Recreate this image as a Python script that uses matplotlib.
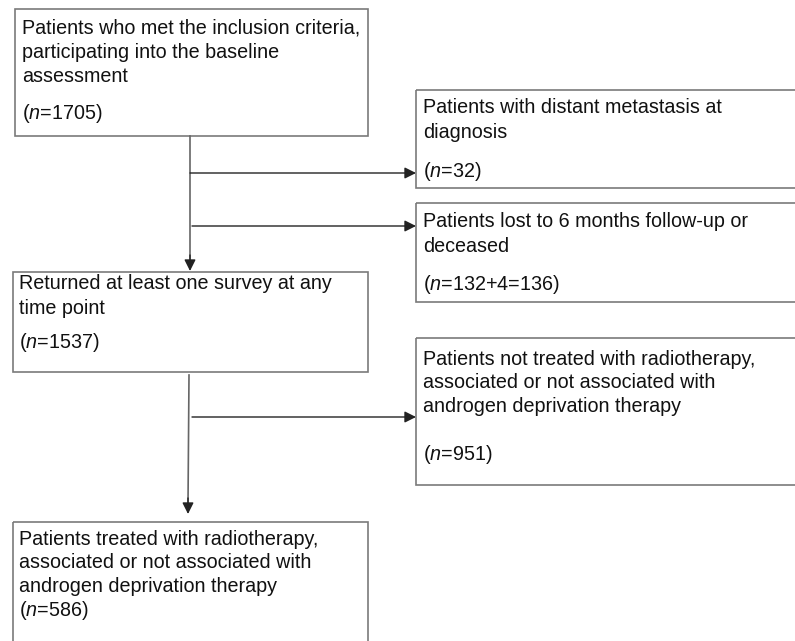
"""Flow chart of patient selection."""
import matplotlib.pyplot as plt
from matplotlib.patches import Rectangle

plt.rcParams['font.family'] = 'Liberation Sans'
plt.rcParams['mathtext.fontset'] = 'custom'
plt.rcParams['mathtext.it'] = 'Liberation Sans:italic'
plt.rcParams['mathtext.rm'] = 'Liberation Sans'

box_texts = [
    ['Patients who met the inclusion criteria,', 'participating into the baseline', 'assessment'],
    ['Patients with distant metastasis at', 'diagnosis'],
    ['Patients lost to 6 months follow-up or', 'deceased'],
    ['Returned at least one survey at any', 'time point'],
    ['Patients not treated with radiotherapy,', 'associated or not associated with',
     'androgen deprivation therapy'],
    ['Patients treated with radiotherapy,', 'associated or not associated with',
     'androgen deprivation therapy'],
]
box_counts = ['1705', '32', '132+4=136', '1537', '951', '586']

# box geometry in pixels: x0, y0, x1, y1
boxes = [
    (15, 9, 368, 136),
    (416, 90, 800, 188),
    (416, 203, 800, 302),
    (13, 272, 368, 372),
    (416, 338, 800, 485),
    (13, 522, 368, 660),
]
# text baselines: (x, first line, line step, n line)
text_pos = [
    (22, 33, 24.5, 119),
    (423, 113, 25, 177),
    (423, 227, 25, 290),
    (19, 289, 25, 348),
    (423, 365, 23.5, 460),
    (19, 545, 23.5, 616),
]

fig = plt.figure(figsize=(7.95, 6.41), dpi=100)
ax = fig.add_axes([0, 0, 1, 1])
ax.set_xlim(0, 795)
ax.set_ylim(641, 0)
ax.axis('off')

for (x0, y0, x1, y1) in boxes:
    ax.add_patch(Rectangle((x0, y0), x1 - x0, y1 - y0, fill=False,
                           edgecolor='#7a7a7a', lw=1.2))

for lines, n, (tx, ty, step, ny) in zip(box_texts, box_counts, text_pos):
    for i, line in enumerate(lines):
        ax.text(tx, ty + i * step, line, fontsize=14.2, va='baseline',
                ha='left', color='#111111')
    ax.text(tx, ny, f'($n$={n})', fontsize=14.2, va='baseline', ha='left',
            color='#111111')

arrow = dict(arrowstyle='-|>', color='#222222', lw=1.0, mutation_scale=17,
             shrinkA=0, shrinkB=0)
line_kw = dict(color='#666666', lw=1.2)

# main stem 1
ax.plot([190, 190], [136, 262], **line_kw)
ax.annotate('', xy=(190, 271), xytext=(190, 255), arrowprops=arrow)
ax.annotate('', xy=(416, 173), xytext=(190, 173), arrowprops=arrow)
ax.annotate('', xy=(416, 226), xytext=(192, 226), arrowprops=arrow)

# main stem 2
ax.plot([189, 188], [375, 505], **line_kw)
ax.annotate('', xy=(188, 514), xytext=(188, 498), arrowprops=arrow)
ax.annotate('', xy=(416, 417), xytext=(192, 417), arrowprops=arrow)

fig.savefig('out.png', dpi=100, facecolor='white')
